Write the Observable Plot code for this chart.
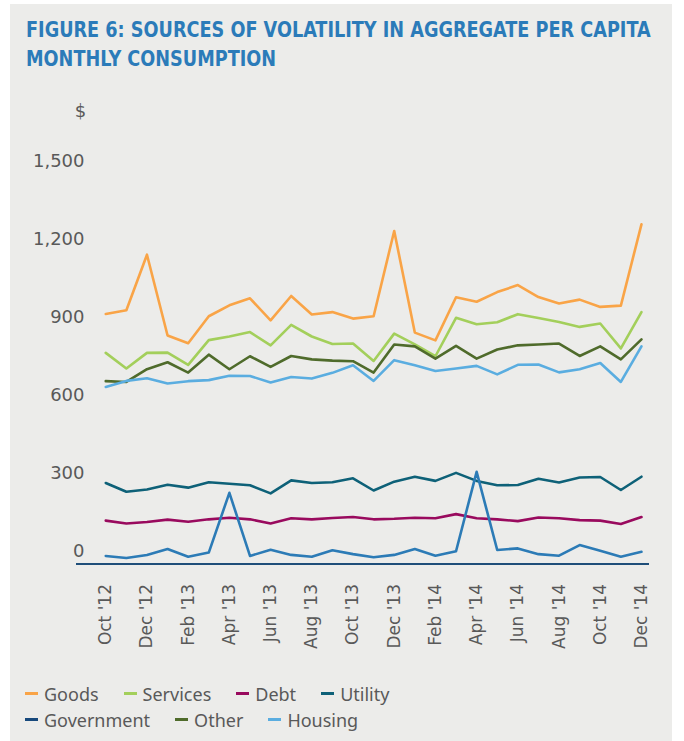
<!DOCTYPE html>
<html><head><meta charset="utf-8">
<script src="https://cdn.jsdelivr.net/npm/d3@7"></script>
<script src="https://cdn.jsdelivr.net/npm/@observablehq/plot@0.6"></script>
<style>
body{margin:0;background:#fff;width:684px;height:741px;overflow:hidden;position:relative;}
#bg{position:absolute;left:10px;top:4px;width:662px;height:737px;background:#ececea;}
#title{position:absolute;left:26px;top:16px;font-family:"Liberation Sans Narrow","DejaVu Sans Condensed",sans-serif;font-weight:bold;font-size:21px;line-height:29px;color:#2b7bb9;white-space:nowrap;transform:scaleX(0.935);transform-origin:left top;}
#chart{position:absolute;left:0;top:0;}
#legend{position:absolute;left:25px;top:681px;font-family:"Noto Sans",sans-serif;font-size:18px;line-height:26px;color:#595959;}
.row{display:flex;gap:25px;white-space:nowrap;}
.item{display:flex;align-items:center;gap:6px;}
.sw{display:inline-block;width:13px;height:3px;margin-top:-2px;}
</style></head>
<body>
<div id="bg"></div>
<div id="title">FIGURE 6: SOURCES OF VOLATILITY IN AGGREGATE PER CAPITA<br>MONTHLY CONSUMPTION</div>
<div id="chart"></div>
<div id="legend"></div>
<script>
const months = ["Oct '12","Nov '12","Dec '12","Jan '13","Feb '13","Mar '13","Apr '13","May '13","Jun '13","Jul '13","Aug '13","Sep '13","Oct '13","Nov '13","Dec '13","Jan '14","Feb '14","Mar '14","Apr '14","May '14","Jun '14","Jul '14","Aug '14","Sep '14","Oct '14","Nov '14","Dec '14"];
const yTicks = [0, 300, 600, 900, 1200, 1500];

const goods      = [913, 927, 1141, 830, 800, 904, 946, 973, 888, 982, 911, 920, 895, 904, 1232, 841, 811, 977, 960, 997, 1024, 978, 953, 968, 940, 945, 1258];
const services   = [763, 703, 763, 764, 717, 812, 826, 843, 792, 871, 826, 797, 799, 732, 837, 796, 750, 898, 873, 881, 912, 897, 882, 863, 876, 780, 920];
const debt       = [117, 106, 112, 121, 113, 122, 128, 122, 106, 126, 122, 127, 131, 122, 124, 128, 126, 142, 126, 122, 115, 129, 126, 119, 117, 104, 131];
const utility    = [262, 228, 237, 255, 244, 265, 259, 253, 222, 272, 262, 265, 280, 233, 267, 286, 270, 301, 270, 253, 254, 278, 264, 283, 285, 235, 286];
const government = [-19, -27, -15, 8, -22, -6, 224, -19, 5, -15, -22, 3, -12, -24, -15, 8, -18, -1, 305, 4, 10, -12, -18, 23, 1, -22, -3];
const other      = [654, 651, 700, 727, 687, 756, 700, 750, 709, 751, 738, 733, 731, 687, 795, 788, 741, 790, 741, 776, 792, 795, 799, 751, 788, 738, 815];
const housing    = [632, 655, 665, 645, 654, 658, 675, 674, 649, 670, 664, 686, 715, 655, 735, 715, 693, 703, 713, 680, 717, 718, 688, 700, 724, 651, 788];

const series = [
  {name: "Goods", values: goods, color: "#f9a447", swatch: "#f9a447"},
  {name: "Services", values: services, color: "#a3cf5b", swatch: "#a3cf5b"},
  {name: "Debt", values: debt, color: "#990a5e", swatch: "#990a5e"},
  {name: "Utility", values: utility, color: "#0e6178", swatch: "#0e6178"},
  {name: "Government", values: government, color: "#2c7bb6", swatch: "#17497c"},
  {name: "Other", values: other, color: "#4f6b2b", swatch: "#4f6b2b"},
  {name: "Housing", values: housing, color: "#5aade0", swatch: "#5aade0"}
];

const evenIdx = months.map((m, i) => i).filter(i => i % 2 === 0);

const chart = Plot.plot({
  width: 684, height: 670,
  marginLeft: 76, marginRight: 35, marginTop: 135, marginBottom: 106.5,
  style: {background: "transparent", fontFamily: "DejaVu Sans", overflow: "visible"},
  x: {domain: [-1.42, 26.39], axis: null},
  y: {domain: [-50, 1600], axis: null},
  marks: [
    Plot.axisY({ticks: yTicks, tickSize: 0, tickPadding: 0, dx: 8, tickFormat: d3.format(","), fontSize: 18, color: "#595959"}),
    Plot.axisX({ticks: evenIdx, tickFormat: i => months[i], tickRotate: -90, tickSize: 0, tickPadding: 20, fontSize: 17, color: "#595959"}),
    Plot.ruleY([-50], {stroke: "#1f4e79", strokeWidth: 2}),
    ...series.map(s => Plot.line(s.values, {x: (d, i) => i, y: d => d, stroke: s.color, strokeWidth: 2.6})),
    Plot.text(["$"], {frameAnchor: "top-left", dx: 4, dy: -31, fontSize: 18, fill: "#595959", textAnchor: "middle"})
  ]
});
document.getElementById("chart").appendChild(chart);

const legend = document.getElementById("legend");
const rowsDef = [series.slice(0, 4), series.slice(4)];
for (const r of rowsDef) {
  const row = document.createElement("div");
  row.className = "row";
  for (const s of r) {
    const it = document.createElement("div");
    it.className = "item";
    const sw = document.createElement("span");
    sw.className = "sw";
    sw.style.background = s.swatch;
    const t = document.createElement("span");
    t.textContent = s.name;
    it.appendChild(sw); it.appendChild(t);
    row.appendChild(it);
  }
  legend.appendChild(row);
}
</script>
</body></html>
